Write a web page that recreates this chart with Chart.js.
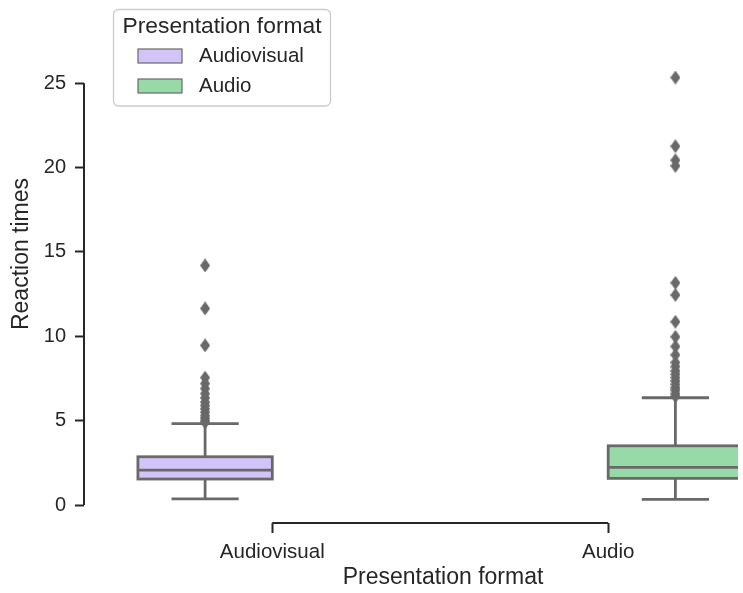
<!DOCTYPE html>
<html>
<head>
<meta charset="utf-8">
<script src="https://cdn.jsdelivr.net/npm/chart.js@4/dist/chart.umd.min.js"></script>
<style>
  html, body { margin: 0; padding: 0; background: #fff; }
  #wrap { width: 743px; height: 593px; position: relative; }
</style>
</head>
<body>
<div id="wrap"><canvas id="chart"></canvas></div>
<script>
// categories on the x axis (each one only has its own hue level)
const categories = ['Audiovisual', 'Audio'];
const hueLevels = ['Audiovisual', 'Audio'];

// box statistics per category
const whiskerLow = [0.36, 0.34];
const q1Values = [1.54, 1.58];
const medianValues = [2.07, 2.23];
const q3Values = [2.86, 3.51];
const whiskerHigh = [4.82, 6.36];

// fliers
const audiovisualOutliers = [14.2, 11.65, 9.46, 7.55, 7.2, 6.9, 6.6, 6.35, 6.1, 5.9, 5.7, 5.5, 5.3, 5.15, 5.0, 4.9];
const audioOutliers = [25.34, 21.27, 20.44, 20.1, 13.17, 12.45, 10.86, 9.97, 9.4, 8.9, 8.45, 8.2, 7.95, 7.75, 7.55, 7.35, 7.15, 6.95, 6.8, 6.6, 6.45];

const yTicks = [0, 5, 10, 15, 20, 25];

const hueColors = ['#d3c4f7', '#98daa7'];
const lineGray = '#696969';
const inkColor = '#262626';
const fontFamily = '"Liberation Sans", Arial, sans-serif';

// seaborn style dodge: total width .8 split between the hue levels
const groupWidth = 0.8;
const boxWidth = groupWidth / hueLevels.length;
function boxCenter(catIndex) {
    const hueIndex = hueLevels.indexOf(categories[catIndex]);
    return catIndex - groupWidth / 2 + boxWidth * (hueIndex + 0.5);
}

// thin diamond marker, like matplotlib 'd'
function diamond(w, h, color) {
    const c = document.createElement('canvas');
    c.width = w; c.height = h;
    const g = c.getContext('2d');
    g.fillStyle = color;
    g.beginPath();
    g.moveTo(w / 2, 0); g.lineTo(w, h / 2); g.lineTo(w / 2, h); g.lineTo(0, h / 2);
    g.closePath();
    g.fill();
    return c;
}
const flierMarker = diamond(10, 14, lineGray);

const boxPlugin = {
    id: 'boxes',
    beforeDatasetsDraw(chart) {
        const { ctx, chartArea, scales: { x, y } } = chart;
        ctx.save();
        ctx.beginPath();
        ctx.rect(chartArea.left, chartArea.top, chartArea.width, chartArea.height);
        ctx.clip();
        ctx.strokeStyle = lineGray;
        ctx.lineWidth = 2.8;
        categories.forEach((cat, i) => {
            const c = boxCenter(i);
            const xl = x.getPixelForValue(c - boxWidth / 2);
            const xr = x.getPixelForValue(c + boxWidth / 2);
            const xm = x.getPixelForValue(c);
            const capL = x.getPixelForValue(c - boxWidth / 4);
            const capR = x.getPixelForValue(c + boxWidth / 4);
            const yLo = y.getPixelForValue(whiskerLow[i]);
            const yQ1 = y.getPixelForValue(q1Values[i]);
            const yMed = y.getPixelForValue(medianValues[i]);
            const yQ3 = y.getPixelForValue(q3Values[i]);
            const yHi = y.getPixelForValue(whiskerHigh[i]);

            // box
            ctx.fillStyle = hueColors[hueLevels.indexOf(cat)];
            ctx.fillRect(xl, yQ3, xr - xl, yQ1 - yQ3);
            ctx.strokeRect(xl, yQ3, xr - xl, yQ1 - yQ3);

            // whiskers and caps
            ctx.beginPath();
            ctx.moveTo(xm, yQ1); ctx.lineTo(xm, yLo);
            ctx.moveTo(xm, yQ3); ctx.lineTo(xm, yHi);
            ctx.moveTo(capL, yLo); ctx.lineTo(capR, yLo);
            ctx.moveTo(capL, yHi); ctx.lineTo(capR, yHi);
            // median
            ctx.moveTo(xl, yMed); ctx.lineTo(xr, yMed);
            ctx.stroke();
        });
        ctx.restore();
    },
    afterDraw(chart) {
        const { ctx, chartArea, scales: { x, y } } = chart;
        ctx.save();

        // trimmed spines
        ctx.strokeStyle = inkColor;
        ctx.lineWidth = 2;
        ctx.beginPath();
        ctx.moveTo(chartArea.left, y.getPixelForValue(yTicks[0]));
        ctx.lineTo(chartArea.left, y.getPixelForValue(yTicks[yTicks.length - 1]));
        ctx.moveTo(x.getPixelForValue(0), chartArea.bottom);
        ctx.lineTo(x.getPixelForValue(categories.length - 1), chartArea.bottom);
        ctx.stroke();

        // axis titles
        ctx.fillStyle = inkColor;
        ctx.font = '23px ' + fontFamily;
        ctx.textAlign = 'center';
        ctx.textBaseline = 'middle';
        ctx.fillText('Presentation format', 443, 578);
        ctx.save();
        ctx.translate(22, 254);
        ctx.rotate(-Math.PI / 2);
        ctx.fillText('Reaction times', 0, 0);
        ctx.restore();

        // legend
        const lx = 113.5, ly = 9.5, lw = 217, lh = 96.5;
        ctx.beginPath();
        ctx.roundRect(lx, ly, lw, lh, 5);
        ctx.fillStyle = 'rgba(255,255,255,0.8)';
        ctx.fill();
        ctx.strokeStyle = '#cccccc';
        ctx.lineWidth = 1.3;
        ctx.stroke();

        ctx.fillStyle = inkColor;
        ctx.font = '22.8px ' + fontFamily;
        ctx.textAlign = 'center';
        ctx.fillText('Presentation format', lx + lw / 2, 27);

        ctx.font = '20.5px ' + fontFamily;
        ctx.textAlign = 'left';
        hueLevels.forEach((name, k) => {
            const cy = 56 + k * 30;
            ctx.fillStyle = hueColors[k];
            ctx.fillRect(138, cy - 7, 44, 14);
            ctx.strokeStyle = lineGray;
            ctx.lineWidth = 1.2;
            ctx.strokeRect(138, cy - 7, 44, 14);
            ctx.fillStyle = inkColor;
            ctx.fillText(name, 199, cy);
        });
        ctx.restore();
    }
};

const chart = new Chart(document.getElementById('chart'), {
    type: 'scatter',
    data: {
        datasets: [
            {
                label: hueLevels[0],
                data: audiovisualOutliers.map(v => ({ x: boxCenter(0), y: v })),
                pointStyle: flierMarker
            },
            {
                label: hueLevels[1],
                data: audioOutliers.map(v => ({ x: boxCenter(1), y: v })),
                pointStyle: flierMarker
            }
        ]
    },
    options: {
        responsive: true,
        maintainAspectRatio: false,
        animation: false,
        layout: { padding: 0 },
        plugins: {
            legend: { display: false },
            tooltip: { enabled: false }
        },
        scales: {
            x: {
                type: 'linear',
                min: -0.5605,
                max: 1.3864,
                afterFit: scale => {
                    scale.height = 70;
                    scale.paddingLeft = 0;
                    scale.paddingRight = 0;
                },
                afterBuildTicks: scale => {
                    scale.ticks = categories.map((c, i) => ({ value: i }));
                },
                ticks: {
                    callback: v => categories[v],
                    color: inkColor,
                    font: { family: fontFamily, size: 20.5 },
                    padding: 7,
                    maxRotation: 0
                },
                grid: {
                    drawOnChartArea: false,
                    drawTicks: true,
                    tickLength: 10,
                    tickWidth: 2,
                    tickColor: inkColor
                },
                border: { display: false }
            },
            y: {
                min: -1.066,
                max: 29.64,
                afterFit: scale => {
                    scale.width = 84;
                    scale.paddingTop = 0;
                    scale.paddingBottom = 0;
                },
                afterBuildTicks: scale => {
                    scale.ticks = yTicks.map(v => ({ value: v }));
                },
                ticks: {
                    color: inkColor,
                    font: { family: fontFamily, size: 20 },
                    padding: 9
                },
                grid: {
                    drawOnChartArea: false,
                    drawTicks: true,
                    tickLength: 9,
                    tickWidth: 2,
                    tickColor: inkColor
                },
                border: { display: false }
            }
        }
    },
    plugins: [boxPlugin]
});
</script>
</body>
</html>
